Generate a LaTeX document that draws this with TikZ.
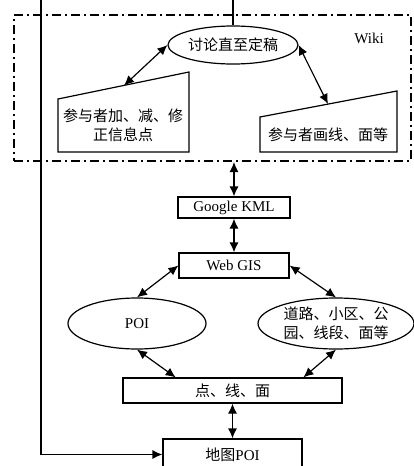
\documentclass[tikz,border=0pt]{standalone}
\usepackage{fontspec}
\setmainfont{Liberation Serif}
\newfontfamily\cjk{Noto Sans CJK SC}
\usetikzlibrary{arrows.meta,shapes.geometric,calc}
\begin{document}
\begin{tikzpicture}[x=1pt,y=-1pt,
  font=\fontsize{15}{19}\selectfont,
  box/.style={draw,line width=1.2pt,rectangle,inner sep=0pt},
  ell/.style={draw,line width=1.2pt,ellipse,inner sep=0pt},
  tip/.tip={Latex[length=10pt,width=9pt]},
  link/.style={line width=1.2pt,tip-tip},
  plain/.style={line width=1.2pt},
  dashbox/.style={draw,line width=2pt,dash pattern=on 9pt off 4pt on 2pt off 4pt,inner sep=0pt}]
\useasboundingbox (0,0) rectangle (414,466);

% wiki region
\node[dashbox,minimum width=397pt,minimum height=146pt] (wiki) at (212.5,88) {};
\node (wikilbl) at (369,38) {Wiki};
\node[ell,minimum width=130pt,minimum height=38pt] (disc) at (233,45) {\cjk 讨论直至定稿};

% trapezoids
\draw[plain] (58,99) -- (189,72) -- (189,152) -- (58,152) -- cycle;
\coordinate (lt) at (124,85.5);
\node[align=center,inner sep=0pt] (ltxt) at (123,125.5) {\cjk 参与者加、减、修\\\cjk 正信息点};
\draw[plain] (260,117) -- (397,91) -- (397,152) -- (260,152) -- cycle;
\coordinate (rt) at (328,104);
\node[inner sep=0pt] (rtxt) at (328,135) {\cjk 参与者画线、面等};

\draw[link] (lt) -- (disc.west);
\draw[link] (disc.east) -- (rt);

% top and left lines
\coordinate (topc) at (233,0);
\draw[plain] (topc) -- (disc.north);

% chain
\node[box,minimum width=112pt,minimum height=21pt] (kml) at (234,207.5) {Google KML};
\node[box,minimum width=110pt,minimum height=25pt] (web) at (234,265.5) {Web GIS};
\node[ell,minimum width=138pt,minimum height=51pt] (poi) at (137,323.5) {POI};
\node[ell,minimum width=156pt,minimum height=51pt,align=center] (road) at (336,323.5) {\cjk 道路、小区、公\\\cjk 园、线段、面等};
\node[box,minimum width=219pt,minimum height=25pt] (pts) at (232.5,390.5) {\cjk 点、线、面};
\node[box,minimum width=139pt,minimum height=31pt] (map) at (232.5,454.5) {{\cjk 地图}POI};

\draw[link] (kml.north |- wiki.south) -- (kml.north);
\draw[link] (kml.south) -- (web.north);
\draw[link] (web.west) -- (poi.north);
\draw[link] (web.east) -- (road.north);
\draw[link] (poi.south) -- ($(pts.north west)!0.242!(pts.north east)$);
\draw[link] (road.south) -- ($(pts.north west)!0.822!(pts.north east)$);
\draw[link] (pts.south) -- (map.north);

\coordinate (corner) at (41,0);
\draw[plain,-tip] (corner) |- (map.west);
\end{tikzpicture}
\end{document}
